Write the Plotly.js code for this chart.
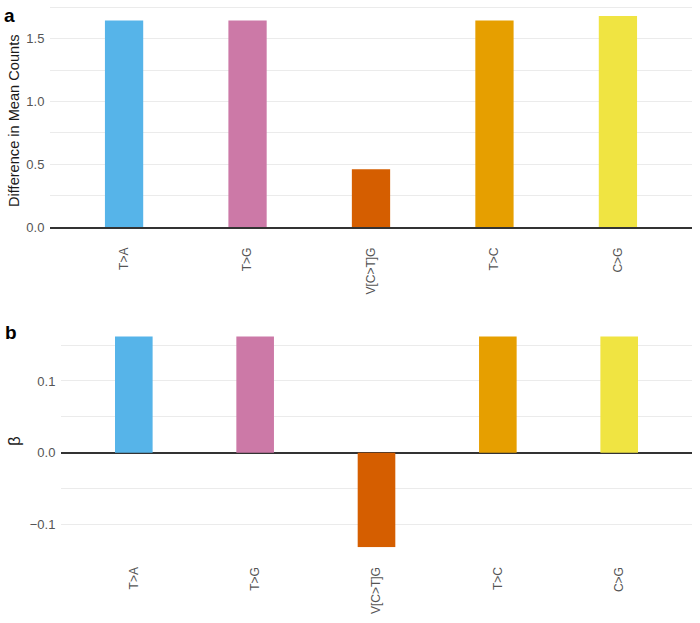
<!DOCTYPE html>
<html>
<head>
<meta charset="utf-8">
<script src="https://cdn.plot.ly/plotly-3.0.1.min.js"></script>
<style>html,body{margin:0;padding:0;background:#fff;}</style>
</head>
<body>
<div id="chart" style="width:700px;height:623px;"></div>
<script>
const categories = ["T>A", "T>G", "V[C>T]G", "T>C", "C>G"];
const meanDiff = [1.645, 1.645, 0.46, 1.645, 1.68];
const beta = [0.162, 0.162, -0.132, 0.162, 0.162];
const barColors = ["#56B4E9", "#CC79A7", "#D55E00", "#E69F00", "#F0E442"];
const titleA = "Difference in Mean Counts";
const titleB = "β";

const W = 700, H = 623;
const px = v => v / W;
const py = v => 1 - v / H;

const traceA = {
  type: "bar", x: categories, y: meanDiff, xaxis: "x", yaxis: "y",
  marker: {color: barColors}, width: 0.31, hoverinfo: "none"
};
const traceB = {
  type: "bar", x: categories, y: beta, xaxis: "x2", yaxis: "y2",
  marker: {color: barColors}, width: 0.31, hoverinfo: "none"
};

const FAM = "Liberation Sans, Arial, sans-serif";
const tickFont = {family: FAM, size: 13, color: "#555555"};
const xTickFont = {family: FAM, size: 12, color: "#555555"};
const grid = "#ebebeb";

const layout = {
  width: W, height: H,
  margin: {l: 0, r: 0, t: 0, b: 0},
  paper_bgcolor: "#fff", plot_bgcolor: "#fff",
  showlegend: false,
  xaxis: {
    domain: [px(50), px(692)], anchor: "y", range: [-0.6, 4.6],
    type: "category", tickangle: -90, tickfont: xTickFont,
    showgrid: false, showline: true, linecolor: "#333", linewidth: 1.8,
    ticks: "outside", ticklen: 14, tickcolor: "rgba(0,0,0,0)",
    zeroline: false
  },
  yaxis: {
    domain: [py(227), py(4.7)], anchor: "x", range: [0, 1.77],
    dtick: 0.5, tick0: 0, tickformat: ".1f", tickfont: tickFont,
    showgrid: true, gridcolor: grid, gridwidth: 1,
    minor: {dtick: 0.25, tick0: 0, showgrid: true, gridcolor: grid, gridwidth: 1},
    zeroline: false, showline: false, ticks: "outside", ticklen: 2, tickcolor: "rgba(0,0,0,0)"
  },
  xaxis2: {
    domain: [px(61), px(692)], anchor: "y2", range: [-0.6, 4.6],
    type: "category", tickangle: -90, tickfont: xTickFont,
    showgrid: false, showline: false, zeroline: false,
    ticks: "outside", ticklen: 14, tickcolor: "rgba(0,0,0,0)"
  },
  yaxis2: {
    domain: [py(547.3), py(335.8)], anchor: "x2", range: [-0.132, 0.163],
    dtick: 0.1, tick0: 0, tickformat: ".1f", tickfont: tickFont,
    showgrid: true, gridcolor: grid, gridwidth: 1,
    minor: {dtick: 0.05, tick0: 0, showgrid: true, gridcolor: grid, gridwidth: 1},
    zeroline: true, zerolinecolor: "#333", zerolinewidth: 1.8,
    showline: false, ticks: "outside", ticklen: 2, tickcolor: "rgba(0,0,0,0)"
  },
  annotations: [
    {text: titleA, xref: "paper", yref: "paper", x: px(14), y: py(121), xanchor: "center", yanchor: "middle",
     textangle: -90, showarrow: false, font: {family: FAM, size: 14.6, color: "#1a1a1a"}},
    {text: titleB, xref: "paper", yref: "paper", x: px(15), y: py(441), xanchor: "center", yanchor: "middle",
     textangle: -90, showarrow: false, font: {family: FAM, size: 17, color: "#1a1a1a"}},
    {text: "<b>a</b>", xref: "paper", yref: "paper", x: px(2), y: py(3), xanchor: "left", yanchor: "top",
     showarrow: false, font: {family: FAM, size: 19, color: "#000"}},
    {text: "<b>b</b>", xref: "paper", yref: "paper", x: px(3), y: py(320), xanchor: "left", yanchor: "top",
     showarrow: false, font: {family: FAM, size: 19, color: "#000"}}
  ]
};

Plotly.newPlot("chart", [traceA, traceB], layout, {displayModeBar: false, staticPlot: true});
</script>
</body>
</html>
